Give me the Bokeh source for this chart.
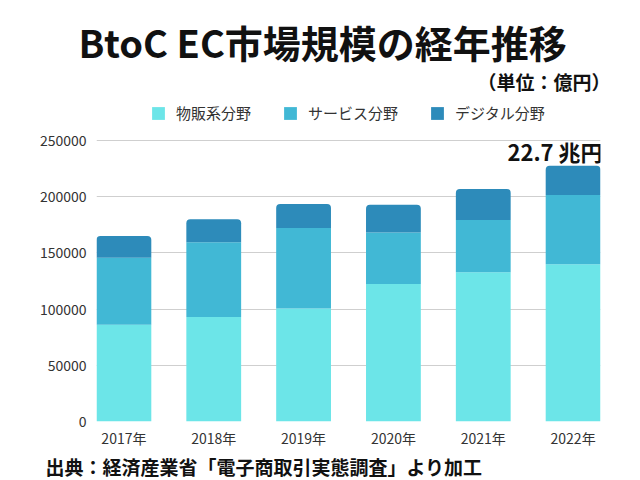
from bokeh.plotting import figure
from bokeh.models import (Range1d, FixedTicker, BasicTickFormatter, Label, Legend, LegendItem, Title)
from bokeh.embed import file_html
from bokeh.resources import INLINE

years = ["2017年", "2018年", "2019年", "2020年", "2021年", "2022年"]
goods = [86008, 92992, 100515, 122333, 132865, 139997]
services = [59568, 66471, 71672, 45832, 46424, 61477]
digital = [19478, 20382, 21422, 24614, 27661, 25974]
series_names = ["物販系分野", "サービス分野", "デジタル分野"]
colors = ["#6CE5E8", "#41B8D5", "#2D8BBA"]
y_ticks = [0, 50000, 100000, 150000, 200000, 250000]

FONT = "Noto Sans CJK JP"
BAR_W = 0.61
X0, X1 = -0.305, 5.305

# frame geometry (pixels): 0 at 421, 250000 at 140, frame top extended to hold legend/unit
F_LEFT, F_RIGHT, F_BOTTOM, F_TOP = 96, 600, 421, 68
PX_250K = 140
Y0 = 0
Y1 = 250000 * (F_BOTTOM - F_TOP) / (F_BOTTOM - PX_250K)

def dy(py):
    return (F_BOTTOM - py) * 250000 / (F_BOTTOM - PX_250K)

p = figure(width=640, height=480, output_backend="svg", toolbar_location=None,
           x_range=Range1d(X0, X1), y_range=Range1d(Y0, Y1),
           min_border_left=F_LEFT, min_border_right=640 - F_RIGHT,
           min_border_top=F_TOP, min_border_bottom=480 - F_BOTTOM)
p.outline_line_color = None
p.background_fill_color = "white"
p.border_fill_color = "white"

xs = list(range(len(years)))
t1 = list(goods)
t2 = [g + s for g, s in zip(goods, services)]
t3 = [g + s + d for g, s, d in zip(goods, services, digital)]

r1 = p.vbar(x=xs, bottom=0, top=t1, width=BAR_W, fill_color=colors[0], line_color=None)
r2 = p.vbar(x=xs, bottom=t1, top=t2, width=BAR_W, fill_color=colors[1], line_color=None)
r3 = p.vbar(x=xs, bottom=t2, top=t3, width=BAR_W, fill_color=colors[2], line_color=None,
            border_radius=(4, 4, 0, 0))

# axes
p.xaxis.ticker = FixedTicker(ticks=xs)
p.xaxis.major_label_overrides = {i: y for i, y in enumerate(years)}
p.xaxis.axis_line_color = None
p.xaxis.major_tick_line_color = None
p.xaxis.major_tick_out = 0
p.xaxis.minor_tick_line_color = None
p.xaxis.major_label_standoff = 6
p.xaxis.major_label_text_font = FONT
p.xaxis.major_label_text_font_size = "14px"
p.xaxis.major_label_text_color = "#333333"

p.yaxis.ticker = FixedTicker(ticks=y_ticks)
p.yaxis.formatter = BasicTickFormatter(use_scientific=False)
p.yaxis.axis_line_color = None
p.yaxis.major_tick_line_color = None
p.yaxis.major_tick_out = 0
p.yaxis.minor_tick_line_color = None
p.yaxis.major_label_standoff = 10
p.yaxis.major_label_text_font = FONT
p.yaxis.major_label_text_font_size = "14px"
p.yaxis.major_label_text_color = "#333333"

p.xgrid.grid_line_color = None
p.ygrid.grid_line_color = "#cfcfcf"
p.ygrid.grid_line_width = 1
p.ygrid.ticker = FixedTicker(ticks=y_ticks)

total_last = t3[-1]
p.add_layout(Label(x=xs[-1] + BAR_W / 2, x_offset=2, y=total_last, y_offset=-1,
                   text=f"{total_last/10000:.1f} 兆円",
                   text_align="right", text_baseline="bottom", text_font=FONT,
                   text_font_style="bold", text_font_size="22px", text_color="#111111"))

p.add_layout(Label(x=X1, x_offset=10, y=dy(81), text="（単位：億円）",
                   text_align="right", text_baseline="middle", text_font=FONT,
                   text_font_style="bold", text_font_size="19px", text_color="#111111"))

legend = Legend(items=[LegendItem(label=series_names[0], renderers=[r1]),
                       LegendItem(label=series_names[1], renderers=[r2]),
                       LegendItem(label=series_names[2], renderers=[r3])],
                orientation="horizontal", location=(150 - F_LEFT, F_BOTTOM - 123),
                glyph_width=16, glyph_height=16, label_standoff=10, spacing=31,
                label_height=16, padding=0, margin=0, border_line_color=None,
                background_fill_alpha=0,
                label_text_font=FONT, label_text_font_size="15px", label_text_color="#333333")
p.add_layout(legend, "center")

p.add_layout(Title(text="BtoC EC市場規模の経年推移", align="left", offset=-18, standoff=0,
                   text_font=FONT, text_font_style="bold", text_font_size="38px",
                   text_color="#111111"), "above")

p.add_layout(Title(text="出典：経済産業省「電子商取引実態調査」より加工", align="left", offset=-51,
                   standoff=0, text_font=FONT, text_font_style="bold", text_font_size="19px",
                   text_color="#111111"), "below")

open("out.html", "w").write(file_html(p, INLINE))
